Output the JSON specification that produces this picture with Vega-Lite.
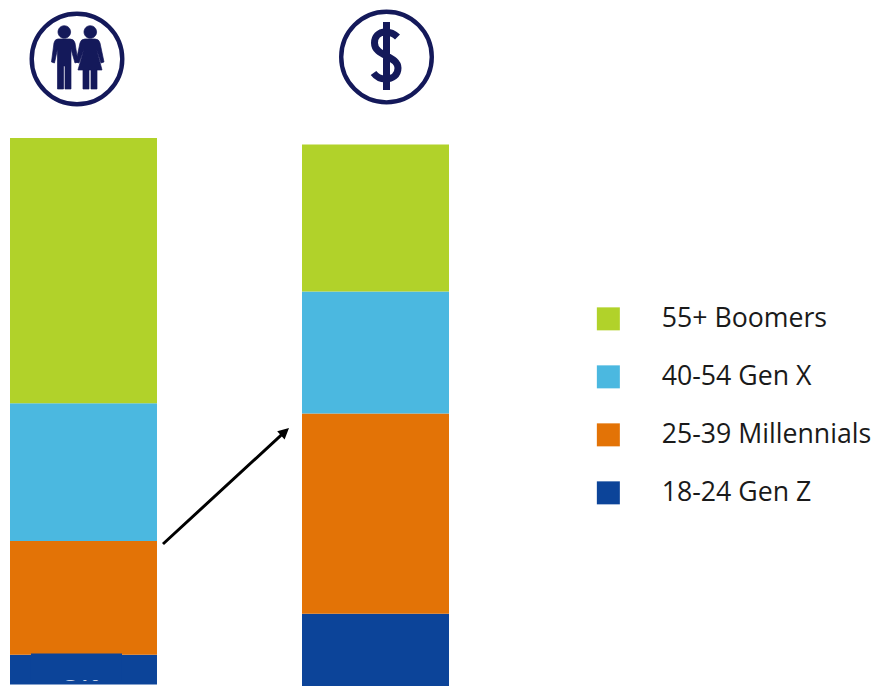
{
  "$schema": "https://vega.github.io/schema/vega-lite/v6.json",
  "width": 874,
  "height": 686,
  "padding": 0,
  "autosize": {"type": "none"},
  "background": "white",
  "view": {"stroke": null},
  "config": {"font": "Open Sans"},
  "datasets": {
    "shares": [
      {"metric": "People", "group": "18-24 Gen Z", "rank": 1, "share": 0.054},
      {"metric": "People", "group": "25-39 Millennials", "rank": 2, "share": 0.208},
      {"metric": "People", "group": "40-54 Gen X", "rank": 3, "share": 0.252},
      {"metric": "People", "group": "55+ Boomers", "rank": 4, "share": 0.485},
      {"metric": "Spending", "group": "18-24 Gen Z", "rank": 1, "share": 0.143},
      {"metric": "Spending", "group": "25-39 Millennials", "rank": 2, "share": 0.366},
      {"metric": "Spending", "group": "40-54 Gen X", "rank": 3, "share": 0.223},
      {"metric": "Spending", "group": "55+ Boomers", "rank": 4, "share": 0.269}
    ]
  },
  "encoding": {
    "x": {
      "field": "metric",
      "type": "nominal",
      "axis": null,
      "scale": {"type": "band", "domain": ["People", "Spending"], "range": [10, 449], "paddingInner": 0.4966, "paddingOuter": 0}
    }
  },
  "layer": [
    {
      "data": {"name": "shares"},
      "transform": [{"filter": "datum.metric === 'People'"}],
      "mark": {"type": "bar", "clip": true, "yOffset": -0.6},
      "encoding": {
        "y": {"field": "share", "type": "quantitative", "stack": "zero", "axis": null, "scale": {"domain": [-0.00183, 1.2523], "nice": false, "zero": false}},
        "order": {"field": "rank"},
        "color": {
          "field": "group",
          "type": "nominal",
          "scale": {
            "domain": ["55+ Boomers", "40-54 Gen X", "25-39 Millennials", "18-24 Gen Z"],
            "range": ["#B1D22A", "#4BB8E0", "#E37306", "#0C4499"]
          },
          "legend": {
            "title": null,
            "orient": "none",
            "legendX": 595,
            "legendY": 305.5,
            "symbolType": "square",
            "symbolSize": 529,
            "symbolStrokeWidth": 0,
            "symbolOpacity": 1,
            "labelFont": "Open Sans",
            "labelFontSize": 26.7,
            "labelColor": "#1a1a1a",
            "labelOffset": 40,
            "labelLimit": 300,
            "rowPadding": 30
          }
        }
      }
    },
    {
      "data": {"name": "shares"},
      "transform": [{"filter": "datum.metric === 'Spending'"}],
      "mark": {"type": "bar", "clip": true, "yOffset": 7},
      "encoding": {
        "y": {"field": "share", "type": "quantitative", "stack": "zero"},
        "order": {"field": "rank"},
        "color": {"field": "group", "type": "nominal"}
      }
    },
    {
      "data": {"name": "shares"},
      "transform": [{"filter": "datum.metric === 'People' && datum.rank === 1"}],
      "mark": {"type": "text", "color": "white", "fontSize": 24, "fontWeight": "bold", "baseline": "alphabetic", "align": "center", "xOffset": -1},
      "encoding": {
        "y": {"datum": 0.0066},
        "text": {"field": "share", "type": "quantitative", "format": ".0%"}
      }
    },
    {
      "data": {"values": [{"metric": "People"}]},
      "mark": {"type": "bar", "size": 91, "xOffset": -7, "color": "#0C4499"},
      "encoding": {"y": {"datum": 0.0085}, "y2": {"datum": 0.0576}}
    },
    {
      "data": {"values": [{"metric": "People"}]},
      "mark": {"type": "point", "shape": "M78.5,-1.1L196.4,-109.7L193.7,-112.7L205.5,-116L201.1,-104.5L198.4,-107.5L80.5,1.1Z", "size": 4, "filled": true, "opacity": 1, "color": "black", "strokeWidth": 0},
      "encoding": {"y": {"datum": 0.2578}}
    },
    {
      "data": {"values": [{"metric": "People"}]},
      "mark": {"type": "point", "shape": "circle", "size": 8200, "filled": false, "opacity": 1, "stroke": "#14195A", "strokeWidth": 4.4, "xOffset": -6.5},
      "encoding": {"y": {"datum": 1.1444}}
    },
    {
      "data": {"values": [{"metric": "Spending"}]},
      "mark": {"type": "point", "shape": "circle", "size": 8200, "filled": false, "opacity": 1, "stroke": "#14195A", "strokeWidth": 4.4, "xOffset": 11},
      "encoding": {"y": {"datum": 1.148}}
    },
    {
      "data": {"values": [{"metric": "People"}]},
      "mark": {
        "type": "point",
        "shape": "M-19,-26a6.3,6.3 0 1,0 12.6,0a6.3,6.3 0 1,0 -12.6,0ZM-19,-19L-7,-19Q-3,-19 -2,-15L1,4L-2,5L-6,-9L-6,31L-12,31L-12,8L-13.5,8L-13.5,31L-19.5,31L-19.5,-9L-22.5,5L-25.5,4L-23,-15Q-22,-19 -19,-19ZM7,-26a6.3,6.3 0 1,0 12.6,0a6.3,6.3 0 1,0 -12.6,0ZM8,-19L18,-19Q22,-19 23,-15L27,4L24,5L19.5,-9L25,12L20,12L20,31L14,31L14,12L12,12L12,31L6,31L6,12L1,12L7,-9L2,5L-1,4L3,-15Q4,-19 8,-19Z",
        "size": 4,
        "filled": true,
        "opacity": 1,
        "fill": "#14195A",
        "stroke": "#14195A",
        "strokeWidth": 0.7,
        "xOffset": -6.5
      },
      "encoding": {"y": {"datum": 1.1463}}
    },
    {
      "data": {"values": [{"metric": "Spending"}]},
      "mark": {
        "type": "point",
        "shape": "M11,-21C7,-25 3,-26 -1,-26C-8,-26 -12,-21 -12,-15C-12,-8 -6,-5 0,-2C6,1 11.5,4 11.5,10C11.5,17 6,21 -1,21C-6,21 -10,19 -13,15M0,-36L0,32",
        "size": 4,
        "filled": false,
        "fill": null,
        "opacity": 1,
        "stroke": "#14195A",
        "strokeWidth": 7,
        "xOffset": 11
      },
      "encoding": {"y": {"datum": 1.1463}}
    }
  ]
}
